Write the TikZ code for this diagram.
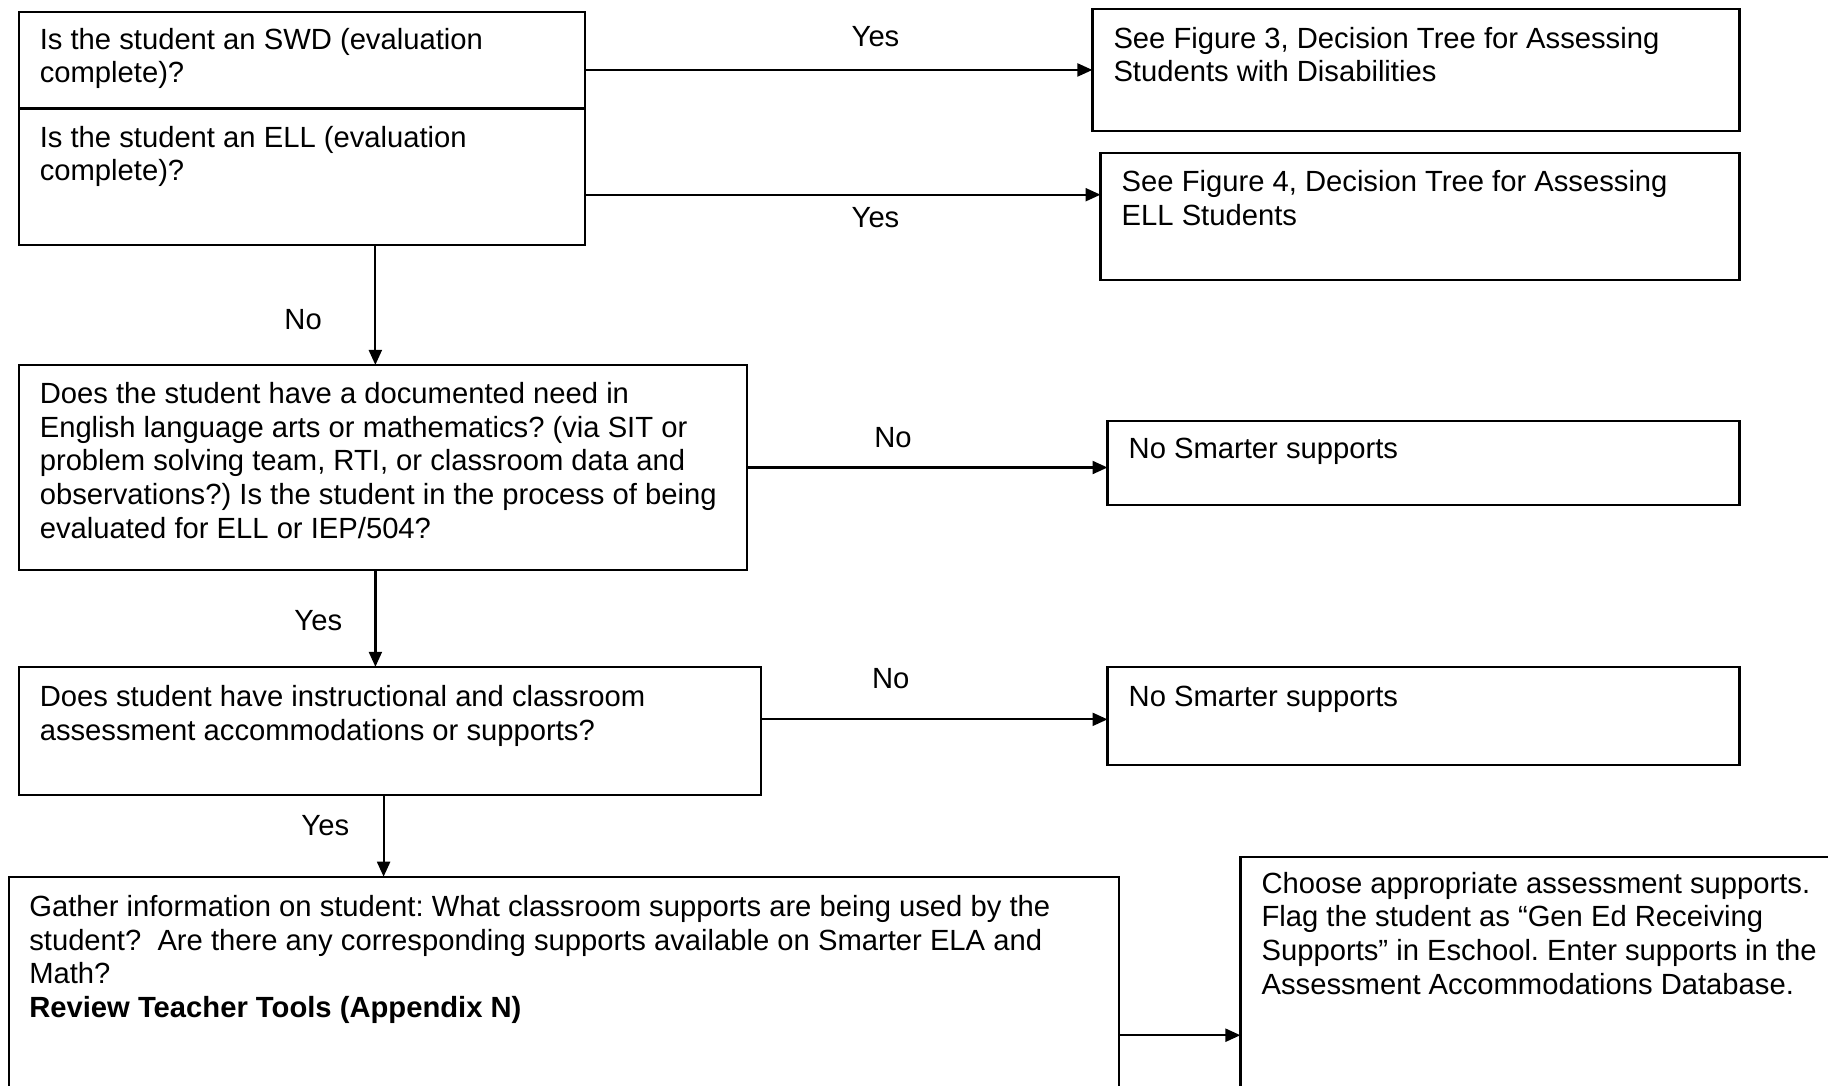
\documentclass[tikz,border=0pt]{standalone}
\usepackage{fontspec}
\setmainfont{Liberation Sans}
\usetikzlibrary{arrows.meta,calc}
\newcommand{\fsz}{\fontsize{29.2pt}{33.6pt}\selectfont}
\frenchspacing
\tikzset{
  box/.style={draw, line width=2.2pt, anchor=north west, inner sep=0pt, outer sep=0pt},
  txt/.style={anchor=north west, inner sep=0pt, align=left, font=\fsz},
  lbl/.style={inner sep=0pt, font=\fsz},
  arr/.style={line width=2.2pt, -{Triangle[length=15pt,width=13pt]}},
}
\begin{document}
\begin{tikzpicture}[x=1pt,y=-1pt]
\useasboundingbox (0,0) rectangle (1828,1085);
\fill[white] (0,0) rectangle (1828,1085);
\clip (0,0) rectangle (1828,1085);

% boxes
\node[box, minimum width=566.5pt, minimum height=96.7pt] (A1) at (18.7,11.7) {};
\node[box, minimum width=566.5pt, minimum height=136.4pt] (A2) at (18.7,108.4) {};
\node[box, minimum width=647pt, minimum height=121.3pt] (B1) at (1092.4,9.3) {};
\node[box, minimum width=638.9pt, minimum height=127.1pt] (B2) at (1100.5,152.7) {};
\node[box, minimum width=728.6pt, minimum height=205.2pt] (C) at (18.7,364.9) {};
\node[box, minimum width=631.9pt, minimum height=83.9pt] (D1) at (1107.5,420.9) {};
\node[box, minimum width=742.6pt, minimum height=128.3pt] (E) at (18.7,666.8) {};
\node[box, minimum width=631.9pt, minimum height=98pt] (D2) at (1107.5,666.8) {};
\node[box, minimum width=1109.9pt, minimum height=260pt] (F) at (9.3,876.7) {};
\node[box, minimum width=650pt, minimum height=260pt] (G) at (1240.4,856.9) {};

% texts
\node[txt] (tA1) at (39.6,28.0) {Is the student an SWD (evaluation\\complete)?};
\node[txt] (tA2) at (39.6,125.9) {Is the student an ELL (evaluation\\complete)?};
\node[txt] (tB1) at (1113.3,26.8) {See Figure 3, Decision Tree for Assessing\\Students with Disabilities};
\node[txt] (tB2) at (1121.5,170.2) {See Figure 4, Decision Tree for Assessing\\ELL Students};
\node[txt] (tC) at (39.6,382.4) {Does the student have a documented need in\\English language arts or mathematics? (via SIT or\\problem solving team, RTI, or classroom data and\\observations?) Is the student in the process of being\\evaluated for ELL or IEP/504?};
\node[txt] (tD1) at (1128.5,438.3) {No Smarter supports};
\node[txt] (tE) at (39.6,685.5) {Does student have instructional and classroom\\assessment accommodations or supports?};
\node[txt] (tD2) at (1128.5,685.5) {No Smarter supports};
\node[txt] (tF) at (29.1,895.3) {Gather information on student: What classroom supports are being used by the\\student?\ \ Are there any corresponding supports available on Smarter ELA and\\Math?\\\textbf{Review Teacher Tools (Appendix N)}};
\node[txt] (tG) at (1261.4,872.0) {Choose appropriate assessment supports.\\Flag the student as “Gen Ed Receiving\\Supports” in Eschool. Enter supports in the\\Assessment Accommodations Database.};

% connectors
\draw[arr] (A1.east |- B1.west) -- (B1.west);
\coordinate (y2s) at ([yshift=-18.1pt]A2.east);
\draw[arr] (y2s) -- (y2s -| B2.west);
\coordinate (n1s) at ([xshift=73.4pt]A2.south);
\draw[arr] (n1s) -- (n1s |- C.north);
\draw[arr] (C.east) -- (C.east -| D1.west);
\coordinate (y3s) at ([xshift=-7.6pt]C.south);
\draw[arr] (y3s) -- (y3s |- E.north);
\coordinate (n3s) at ([yshift=11.6pt]E.east);
\draw[arr] (n3s) -- (n3s -| D2.west);
\coordinate (y4s) at ([xshift=-6.4pt]E.south);
\draw[arr] (y4s) -- (y4s |- F.north);
\coordinate (fgs) at ([yshift=-28.5pt]F.east);
\draw[arr] (fgs) -- (fgs -| G.west);

% labels
\node[lbl] (l1) at (875.5,36.1) {Yes};
\node[lbl] (l2) at (875.5,218) {Yes};
\node[lbl] (l3) at (303.1,319.4) {No};
\node[lbl] (l4) at (893,437.2) {No};
\node[lbl] (l5) at (318.3,620.2) {Yes};
\node[lbl] (l6) at (890.7,678.5) {No};
\node[lbl] (l7) at (325.3,825.4) {Yes};
\end{tikzpicture}
\end{document}
